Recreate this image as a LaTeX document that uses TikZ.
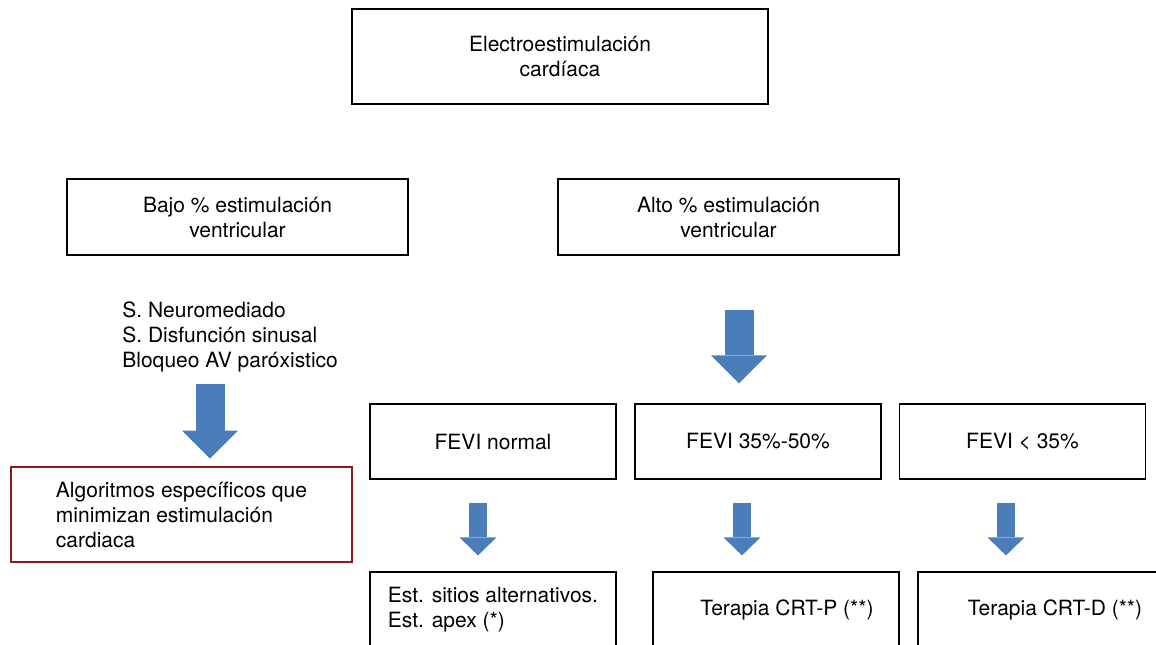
\documentclass[tikz,border=0pt]{standalone}
\usepackage{fontspec}
\setmainfont{TeX Gyre Heros}
\usetikzlibrary{arrows.meta}
\begin{document}
\begin{tikzpicture}[x=0.5pt, y=-0.5pt, font=\fontsize{10.5}{12.5}\selectfont,
  box/.style={draw=black, line width=0.6pt, align=center, inner sep=0pt},
  redbox/.style={draw=boxred, line width=1.4pt, align=left, inner sep=0pt},
  bigarrow/.style={draw=arrowblue, line width=14.5pt, -{Triangle[width=28pt, length=14pt, line width=0pt]}},
  smallarrow/.style={draw=arrowblue, line width=9pt, -{Triangle[width=18.5pt, length=9pt, line width=0pt]}}]
\definecolor{arrowblue}{RGB}{74,126,187}
\definecolor{boxred}{RGB}{140,26,26}

\useasboundingbox (0,0) rectangle (1156,644);
\clip (0,0) rectangle (1156,644);

\node[box, minimum width=208pt, minimum height=47.5pt] (top) at (560,56.5) {Electroestimulación\\cardíaca};
\node[box, minimum width=170.5pt, minimum height=38pt] (bajo) at (237.5,217) {Bajo \% estimulación\\ventricular};
\node[box, minimum width=170.5pt, minimum height=38pt] (alto) at (728.5,217) {Alto \% estimulación\\ventricular};

\node[anchor=west, align=left, inner sep=0pt] (list) at (122,337) {S. Neuromediado\\S. Disfunción sinusal\\Bloqueo AV paróxistico};
\node[redbox, minimum width=170.5pt, minimum height=47.5pt] (red) at (181.5,514.5) {Algoritmos específicos que\\minimizan estimulación\\cardiaca};

\foreach \fx/\fname/\ftext in {493/fevinormal/FEVI normal, 758/fevimid/FEVI 35\%-50\%, 1022.5/fevilow/FEVI < 35\%}
  \node[box, minimum width=123pt, minimum height=37.5pt] (\fname) at (\fx,441.5) {\ftext};

\node[box, align=left, minimum width=123pt, minimum height=38pt] (est) at (493,610) {Est. sitios alternativos.\\Est. apex (*)};
\node[box, minimum width=123pt, minimum height=38pt] (crtp) at (776,610) {\hspace*{11pt}Terapia CRT-P (**)};
\node[box, minimum width=123pt, minimum height=38pt] (crtd) at (1041,610) {\hspace*{14pt}Terapia CRT-D (**)};

\coordinate (bajocol) at (210,0);
\coordinate (altocol) at (739,0);
\coordinate (normalcol) at (478,0);
\coordinate (midcol) at (742,0);
\coordinate (lowcol) at (1006,0);

\draw[bigarrow, shorten <=5.5pt, shorten >=3.5pt] (list.south -| bajocol) -- (red.north -| bajocol);
\draw[bigarrow, shorten <=27pt, shorten >=10pt] (alto.south -| altocol) -- (fevimid.north -| altocol);

\foreach \fname/\bname/\col in {fevinormal/est/normalcol, fevimid/crtp/midcol, fevilow/crtd/lowcol}
  \draw[smallarrow, shorten <=11.5pt, shorten >=8pt] (\fname.south -| \col) -- (\bname.north -| \col);
\end{tikzpicture}
\end{document}
